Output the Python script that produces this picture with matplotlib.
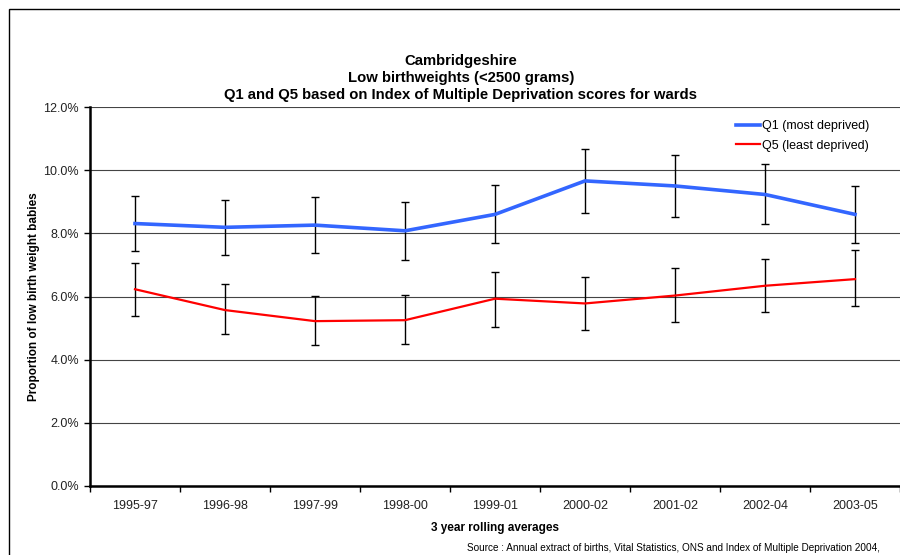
import matplotlib
matplotlib.use("Agg")
import matplotlib.pyplot as plt
from matplotlib.patches import Rectangle
from matplotlib.ticker import FuncFormatter, MultipleLocator, FixedLocator
import numpy as np

plt.rcParams['font.family'] = ['Liberation Sans', 'DejaVu Sans']

categories = ["1995-97", "1996-98", "1997-99", "1998-00", "1999-01",
              "2000-02", "2001-02", "2002-04", "2003-05"]
q1 = [8.31, 8.19, 8.26, 8.08, 8.60, 9.66, 9.50, 9.23, 8.60]
q1_upper = [9.19, 9.06, 9.16, 8.98, 9.54, 10.66, 10.47, 10.21, 9.50]
q1_lower = [7.45, 7.31, 7.38, 7.17, 7.70, 8.63, 8.53, 8.28, 7.70]
q5 = [6.23, 5.57, 5.22, 5.25, 5.93, 5.78, 6.03, 6.34, 6.55]
q5_upper = [7.06, 6.38, 6.02, 6.05, 6.78, 6.62, 6.89, 7.20, 7.46]
q5_lower = [5.37, 4.81, 4.46, 4.50, 5.05, 4.95, 5.19, 5.51, 5.70]

fig = plt.figure(figsize=(9, 5.55), dpi=100)
fig.patches.append(Rectangle((9 / 900, -0.05), 1.1, 1 - 8.5 / 555 + 0.05,
                             transform=fig.transFigure, fill=False,
                             edgecolor='black', linewidth=1.0))

ax = fig.add_axes([90 / 900, 1 - 486 / 555, 810 / 900, (486 - 107) / 555])
x = np.arange(len(categories))

q1a = np.array(q1); q5a = np.array(q5)
ax.errorbar(x, q1a, yerr=[q1a - np.array(q1_lower), np.array(q1_upper) - q1a],
            fmt='none', ecolor='black', elinewidth=1.0, capsize=3, capthick=1.0, zorder=3)
ax.errorbar(x, q5a, yerr=[q5a - np.array(q5_lower), np.array(q5_upper) - q5a],
            fmt='none', ecolor='black', elinewidth=1.0, capsize=3, capthick=1.0, zorder=3)
ax.plot(x, q1a, color='#3366FF', lw=2.6, label='Q1 (most deprived)', zorder=4)
ax.plot(x, q5a, color='#FF0000', lw=1.6, label='Q5 (least deprived)', zorder=4)

ax.set_xlim(-0.5, len(categories) - 0.5)
ax.set_ylim(0, 12)
ax.yaxis.set_major_locator(MultipleLocator(2))
ax.yaxis.set_major_formatter(FuncFormatter(lambda v, p: f"{v:.1f}%"))
ax.grid(axis='y', color='#444444', lw=0.8, zorder=1)
ax.set_axisbelow(True)

ax.set_xticks(x)
ax.set_xticklabels(categories, fontsize=9, color='#222222')
ax.xaxis.set_minor_locator(FixedLocator(np.arange(-0.5, len(categories), 1.0)))
ax.tick_params(axis='x', which='major', length=0, pad=10)
ax.tick_params(axis='x', which='minor', length=4, width=1, direction='out', color='black')
ax.tick_params(axis='y', length=4, width=1, direction='out', labelsize=9,
               labelcolor='#222222', pad=4)

for s in ['top', 'right']:
    ax.spines[s].set_visible(False)
ax.spines['left'].set_linewidth(1.8)
ax.spines['bottom'].set_linewidth(1.8)

ax.set_ylabel("Proportion of low birth weight babies", fontsize=8.5, fontweight='bold')
ax.yaxis.set_label_coords((40 - 90) / 810, 0.5)
ax.set_xlabel("3 year rolling averages", fontsize=8.5, fontweight='bold', labelpad=7)

ax.legend(loc='upper left', bbox_to_anchor=((736 - 90) / 810, (486 - 120) / 379),
          frameon=False, fontsize=9, borderaxespad=0, borderpad=0,
          handlelength=1.9, handletextpad=0.2, labelspacing=0.6)

fig.text(461 / 900, 1 - 78 / 555,
         "Cambridgeshire\nLow birthweights (<2500 grams)\nQ1 and Q5 based on Index of Multiple Deprivation scores for wards",
         ha='center', va='center', fontsize=10.7, fontweight='bold', linespacing=1.3)

fig.text(880 / 900, 1 - 548 / 555,
         "Source : Annual extract of births, Vital Statistics, ONS and Index of Multiple Deprivation 2004,",
         ha='right', va='center', fontsize=7.2)

fig.savefig("out.png", dpi=100)
